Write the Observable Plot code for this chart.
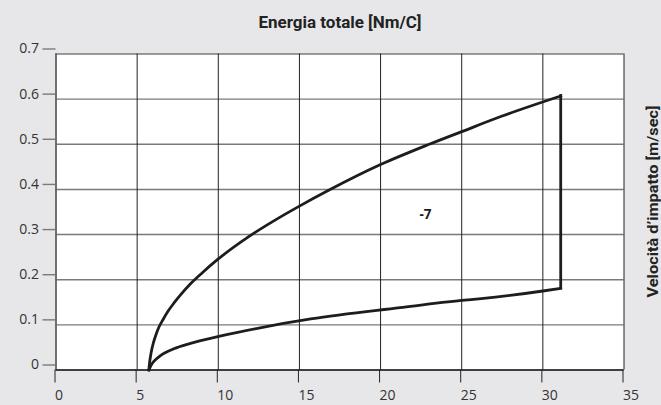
<!DOCTYPE html>
<html><head><meta charset="utf-8">
<script src="https://cdn.jsdelivr.net/npm/d3@7"></script>
<script src="https://cdn.jsdelivr.net/npm/@observablehq/plot@0.6"></script>
<style>
body{margin:0;background:#e7e7e9;}
#chart svg{display:block;}
</style>
</head><body><div id="chart"></div>
<script>
// Upper boundary (energy vs velocity)
const upperX = [5.72, 5.78, 5.87, 6.0, 6.15, 6.33, 6.6, 6.9, 7.26, 7.7, 8.29, 9.0, 10, 11.9, 13.5, 15, 16.8, 20, 23.0, 25, 27.45, 31.1];
const upperY = [0, 0.02, 0.04, 0.06, 0.077, 0.094, 0.112, 0.13, 0.148, 0.1675, 0.191, 0.215, 0.246, 0.296, 0.332, 0.363, 0.398, 0.455, 0.5, 0.528, 0.562, 0.607];
// Lower boundary
const lowerX = [5.72, 5.85, 6.03, 6.44, 7.26, 8.29, 10.1, 12.5, 15.7, 21.2, 25, 26.2, 30, 31.1];
const lowerY = [0, 0.01, 0.019, 0.032, 0.047, 0.059, 0.075, 0.093, 0.113, 0.138, 0.154, 0.158, 0.175, 0.181];
// Ticks
const xTicks = [0, 5, 10, 15, 20, 25, 30, 35];
const yTicks = [0, 0.1, 0.2, 0.3, 0.4, 0.5, 0.6, 0.7];
const yTickLabels = ["0", "0.1", "0.2", "0.3", "0.4", "0.5", "0.6", "0.7"];
// Annotation
const labelText = ["-7"];
const labelX = [22.77];
const labelY = [0.345];
const title = "Energia totale [Nm/C]";
const sideTitle = "Velocità d’impatto [m/sec]";

const upper = upperX.map((x, i) => ({x, y: upperY[i]}));
const lower = lowerX.map((x, i) => ({x, y: lowerY[i]}));
const edge = [{x: upperX[upperX.length - 1], y1: lowerY[lowerY.length - 1], y2: upperY[upperY.length - 1]}];
const labels = labelText.map((t, i) => ({t, x: labelX[i], y: labelY[i]}));

const condensed = "Roboto, 'Noto Sans', sans-serif";
const lineColor = "#1d1d1d";

const chart = Plot.plot({
  width: 661,
  height: 405,
  marginLeft: 55.5,
  marginRight: 37.5,
  marginTop: 53.5,
  marginBottom: 35.5,
  style: {background: "#e7e7e9", fontFamily: "'Open Sans', sans-serif", color: "#333"},
  x: {domain: [0, 35]},
  y: {domain: [0, 0.7]},
  marks: [
    Plot.frame({fill: "white", stroke: null}),
    Plot.gridY(yTicks, {stroke: "#7a7a7a", strokeOpacity: 1, strokeWidth: 1.4}),
    Plot.gridX(xTicks, {stroke: "#222", strokeOpacity: 1, strokeWidth: 1}),
    Plot.axisY(yTicks, {tickSize: 13, tickPadding: 4, stroke: "#7a7a7a", strokeWidth: 1.4, fill: "#333", fontSize: 14, dy: -5, label: null, tickFormat: (d, i) => yTickLabels[i]}),
    Plot.axisX(xTicks, {tickSize: 13, tickPadding: 7, stroke: "#222", fill: "#333", fontSize: 14, textAnchor: "start", dx: -1, label: null}),
    Plot.ruleX([0], {stroke: "#6a6a6a", strokeWidth: 1.6}),
    Plot.ruleY([0], {stroke: "#222", strokeWidth: 1.4}),
    Plot.line(lower, {x: "x", y: "y", curve: "monotone-x", stroke: lineColor, strokeWidth: 2.8, strokeLinecap: "square"}),
    Plot.line(upper, {x: "x", y: "y", curve: "monotone-x", stroke: lineColor, strokeWidth: 2.8, strokeLinecap: "square"}),
    Plot.ruleX(edge, {x: "x", y1: "y1", y2: "y2", stroke: lineColor, strokeWidth: 2.8, strokeLinecap: "square"}),
    Plot.text(labels, {x: "x", y: "y", text: "t", fontSize: 13.5, fontWeight: "bold", fill: "#1a1a1a"}),
    Plot.text([title], {frameAnchor: "top", lineAnchor: "middle", textAnchor: "middle", dy: -31.5, fontSize: 16, fontWeight: "bold", fontFamily: condensed, fill: "#222", className: "ttl"}),
    Plot.text([sideTitle], {frameAnchor: "right", lineAnchor: "middle", textAnchor: "middle", rotate: -90, dx: 29.5, dy: -10.5, fontSize: 15, fontWeight: "bold", fontFamily: condensed, fill: "#222", className: "side"})
  ]
});
chart.querySelectorAll(".ttl text").forEach(t => { t.setAttribute("textLength", 163); t.setAttribute("lengthAdjust", "spacingAndGlyphs"); });
chart.querySelectorAll(".side text").forEach(t => { t.setAttribute("textLength", 192); t.setAttribute("lengthAdjust", "spacingAndGlyphs"); });
document.getElementById("chart").appendChild(chart);
</script>
</body></html>
